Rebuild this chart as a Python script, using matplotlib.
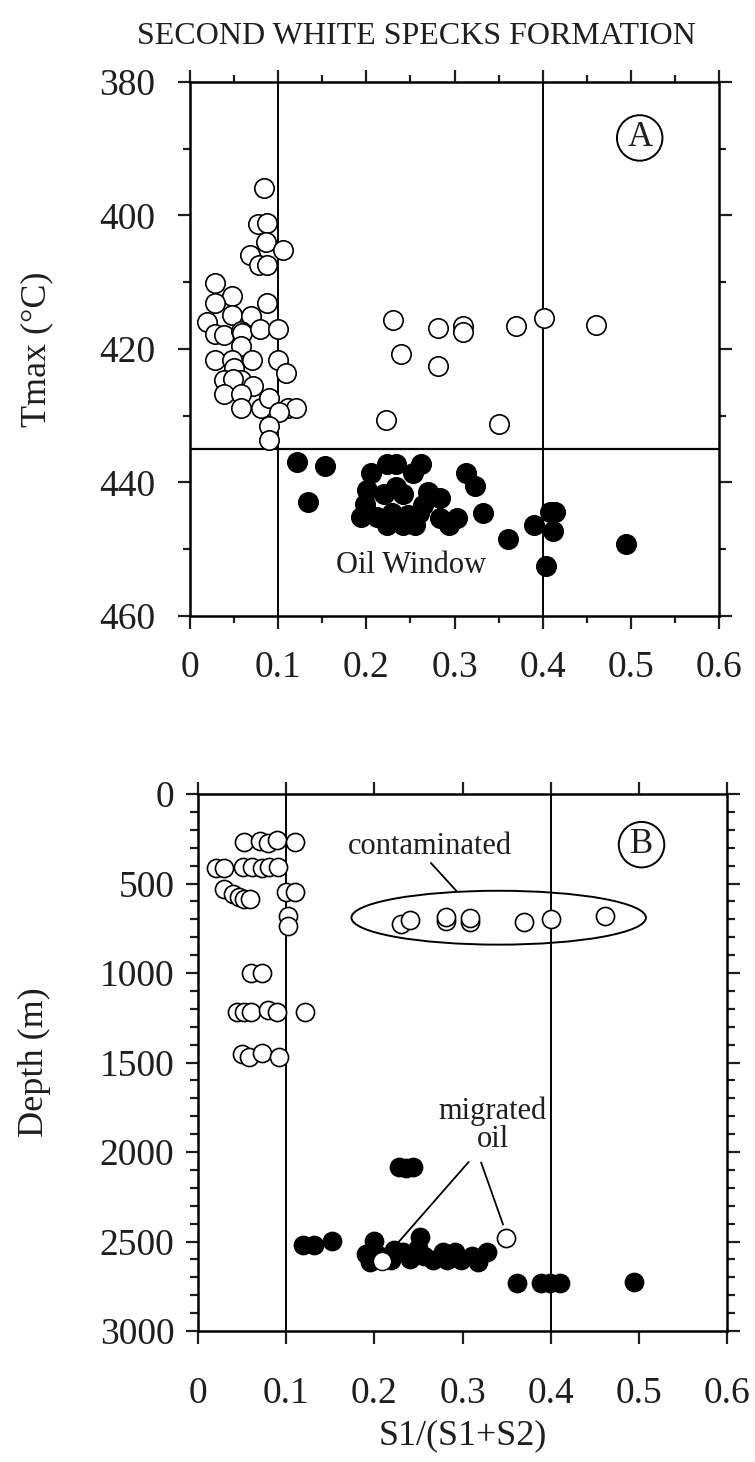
import matplotlib
matplotlib.use("Agg")
import matplotlib.pyplot as plt
from matplotlib.patches import Ellipse
from matplotlib.ticker import MultipleLocator

plt.rcParams['font.family'] = ['Liberation Serif', 'DejaVu Serif']

# --- panel A: Tmax vs S1/(S1+S2) ---
open_a_x = [0.084, 0.077, 0.087, 0.086, 0.106, 0.068, 0.078, 0.087, 0.028, 0.048, 0.028, 0.087,
            0.019, 0.048, 0.069, 0.028, 0.039, 0.058, 0.059, 0.079, 0.100, 0.058, 0.028, 0.048,
            0.050, 0.070, 0.100, 0.109, 0.039, 0.058, 0.049, 0.071, 0.039, 0.058, 0.058, 0.080,
            0.090, 0.111, 0.120, 0.101, 0.090, 0.090,
            0.230, 0.239, 0.281, 0.281, 0.310, 0.310, 0.370, 0.401, 0.460, 0.222, 0.350]
open_a_t = [395.9, 401.3, 401.1, 404.0, 405.2, 406.0, 407.4, 407.4, 410.1, 412.1, 413.1, 413.1,
            416.0, 414.9, 415.0, 417.8, 417.9, 417.3, 417.6, 417.0, 417.0, 419.6, 421.7, 421.6,
            422.8, 421.7, 421.6, 423.6, 424.7, 424.7, 424.5, 425.6, 426.8, 426.8, 428.8, 428.8,
            427.4, 428.8, 428.8, 429.5, 431.6, 433.6,
            415.6, 420.7, 416.8, 422.6, 416.6, 417.4, 416.6, 415.4, 416.4, 430.7, 431.2]

fill_a_x = [0.121, 0.153, 0.134, 0.205, 0.223, 0.234, 0.262, 0.253, 0.201, 0.234, 0.220, 0.242,
            0.270, 0.284, 0.199, 0.194, 0.212, 0.229, 0.247, 0.260, 0.264, 0.223, 0.242, 0.255,
            0.284, 0.294, 0.303, 0.313, 0.323, 0.332, 0.361, 0.390, 0.408, 0.414, 0.412, 0.404, 0.494]
fill_a_t = [436.9, 437.5, 442.9, 438.6, 437.2, 437.2, 437.2, 438.6, 441.2, 440.7, 441.8, 441.8,
            441.5, 442.4, 443.2, 445.2, 445.2, 444.6, 444.9, 444.6, 443.4, 446.4, 446.4, 446.4,
            445.3, 446.4, 445.3, 438.6, 440.5, 444.6, 448.5, 446.4, 444.4, 444.4, 447.3, 452.5, 449.2]

# --- panel B: depth vs S1/(S1+S2) ---
open_b_x = [0.052, 0.070, 0.079, 0.089, 0.110,
            0.020, 0.030, 0.051, 0.061, 0.072, 0.080, 0.091,
            0.030, 0.040, 0.046, 0.052, 0.059, 0.100, 0.110, 0.102, 0.102,
            0.060, 0.072,
            0.044, 0.052, 0.060, 0.079, 0.090, 0.121,
            0.050, 0.058, 0.072, 0.092,
            0.230, 0.240, 0.281, 0.281, 0.309, 0.309, 0.370, 0.400, 0.461,
            0.349]
open_b_d = [266, 262, 275, 258, 266,
            412, 412, 410, 405, 412, 405, 410,
            528, 560, 578, 588, 588, 550, 548, 680, 740,
            1000, 1000,
            1216, 1216, 1216, 1205, 1216, 1216,
            1454, 1470, 1448, 1470,
            724, 702, 709, 687, 717, 690, 717, 698, 681,
            2480]

fill_b_x = [0.228, 0.236, 0.244,
            0.119, 0.132, 0.152,
            0.200, 0.191, 0.195, 0.204, 0.219, 0.222, 0.232, 0.252, 0.250, 0.256, 0.267,
            0.278, 0.282, 0.291, 0.298, 0.311, 0.317, 0.328, 0.240,
            0.362, 0.389, 0.399, 0.411, 0.494]
fill_b_d = [2083, 2088, 2083,
            2517, 2521, 2495,
            2495, 2570, 2614, 2575, 2603, 2549, 2560, 2474, 2538, 2581, 2603,
            2560, 2603, 2560, 2603, 2581, 2614, 2560, 2600,
            2732, 2732, 2732, 2732, 2727]

# migrated oil sample hidden inside the filled cluster (drawn white)
migr_x = [0.209]
migr_d = [2607]

XTICKS = [0, 0.1, 0.2, 0.3, 0.4, 0.5, 0.6]
XLABELS = ["0", "0.1", "0.2", "0.3", "0.4", "0.5", "0.6"]
INK = "#1e1e1e"

fig = plt.figure(figsize=(7.55, 14.62), dpi=100)
axA = fig.add_axes([0.2517, 0.5787, 0.7007, 0.3653])
axB = fig.add_axes([0.2623, 0.0896, 0.7007, 0.3673])

for ax in (axA, axB):
    for sp in ax.spines.values():
        sp.set_linewidth(1.8)
    ax.set_xlim(0, 0.6)
    ax.set_xticks(XTICKS)
    ax.set_xticklabels(XLABELS)
    ax.axvline(0.1, color="black", lw=1.4, zorder=1)
    ax.axvline(0.4, color="black", lw=1.4, zorder=1)
    ax.tick_params(which="both", direction="out", top=True, right=True,
                   width=1.6, labelsize=27, colors=INK)

# panel A
axA.set_ylim(460, 380)
axA.set_yticks([380, 400, 420, 440, 460])
axA.yaxis.set_minor_locator(MultipleLocator(10))
axA.xaxis.set_minor_locator(MultipleLocator(0.05))
axA.tick_params(which="major", length=9, pad=16)
axA.tick_params(which="minor", length=5)
axA.axhline(435, color="black", lw=1.6, zorder=1)
axA.scatter(open_a_x, open_a_t, s=195, facecolor="white", edgecolor="black", linewidth=1.2, zorder=3)
axA.scatter(fill_a_x, fill_a_t, s=195, facecolor="black", edgecolor="black", linewidth=1.2, zorder=3)
axA.text(0.251, 452.5, "Oil Window", ha="center", va="center", fontsize=22, color=INK)
axA.text(0.51, 388.4, "A", ha="center", va="center", fontsize=25, color=INK,
         bbox=dict(boxstyle="circle,pad=0.18", fc="white", ec="black", lw=1.4))
axA.set_ylabel("Tmax (°C)", fontsize=26, va="center", color=INK)
axA.yaxis.set_label_coords(-0.29, 0.5)

fig.text(0.551, 0.975, "SECOND WHITE SPECKS FORMATION", ha="center", va="center",
         fontsize=23, color=INK)

# panel B
axB.set_ylim(3000, 0)
axB.set_yticks([0, 500, 1000, 1500, 2000, 2500, 3000])
axB.yaxis.set_minor_locator(MultipleLocator(100))
axB.tick_params(which="major", length=9, pad=8)
axB.tick_params(axis="x", which="major", pad=24)
axB.tick_params(which="minor", length=6)
axB.scatter(open_b_x, open_b_d, s=170, facecolor="white", edgecolor="black", linewidth=1.2, zorder=3)
axB.scatter(fill_b_x, fill_b_d, s=170, facecolor="black", edgecolor="black", linewidth=1.2, zorder=3)
axB.scatter(migr_x, migr_d, s=170, facecolor="white", edgecolor="black", linewidth=1.0, zorder=4)
axB.add_patch(Ellipse((0.341, 691), 0.334, 301, fill=False, ec="black", lw=1.4, zorder=2))
axB.text(0.263, 294, "contaminated", ha="center", va="center", fontsize=22, color=INK)
axB.annotate("", xy=(0.295, 552), xytext=(0.262, 374),
             arrowprops=dict(arrowstyle="-", color="black", lw=1.3))
axB.text(0.334, 1851, "migrated\noil", ha="center", va="center", fontsize=22,
         linespacing=0.95, color=INK)
axB.annotate("", xy=(0.223, 2528), xytext=(0.309, 2044),
             arrowprops=dict(arrowstyle="-", color="black", lw=1.3))
axB.annotate("", xy=(0.347, 2420), xytext=(0.320, 2044),
             arrowprops=dict(arrowstyle="-", color="black", lw=1.3))
axB.text(0.503, 283, "B", ha="center", va="center", fontsize=25, color=INK,
         bbox=dict(boxstyle="circle,pad=0.18", fc="white", ec="black", lw=1.4))
axB.set_ylabel("Depth (m)", fontsize=26, va="center", color=INK)
axB.yaxis.set_label_coords(-0.31, 0.5)
axB.set_xlabel("S1/(S1+S2)", fontsize=26, labelpad=6, color=INK)

fig.savefig("out.png", dpi=100)
